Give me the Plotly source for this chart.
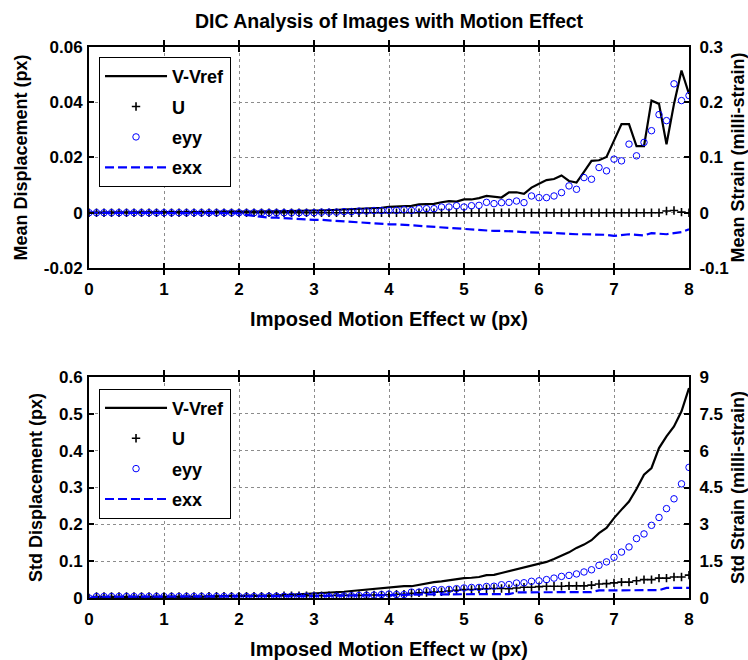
import plotly.graph_objects as go

# Imposed motion effect w (px)
w = [0.0, 0.1, 0.2, 0.3, 0.4, 0.5, 0.6, 0.7, 0.8, 0.9,
     1.0, 1.1, 1.2, 1.3, 1.4, 1.5, 1.6, 1.7, 1.8, 1.9,
     2.0, 2.1, 2.2, 2.3, 2.4, 2.5, 2.6, 2.7, 2.8, 2.9,
     3.0, 3.1, 3.2, 3.3, 3.4, 3.5, 3.6, 3.7, 3.8, 3.9,
     4.0, 4.1, 4.2, 4.3, 4.4, 4.5, 4.6, 4.7, 4.8, 4.9,
     5.0, 5.1, 5.2, 5.3, 5.4, 5.5, 5.6, 5.7, 5.8, 5.9,
     6.0, 6.1, 6.2, 6.3, 6.4, 6.5, 6.6, 6.7, 6.8, 6.9,
     7.0, 7.1, 7.2, 7.3, 7.4, 7.5, 7.6, 7.7, 7.8, 7.9,
     8.0]

# ---- Top panel: mean values ----
mean_v = [0.0000, 0.0001, 0.0001, 0.0001, 0.0001, 0.0001, 0.0002, 0.0001, 0.0002, 0.0002,
          0.0002, 0.0002, 0.0002, 0.0003, 0.0002, 0.0003, 0.0003, 0.0003, 0.0004, 0.0003,
          0.0004, 0.0004, 0.0005, 0.0004, 0.0005, 0.0005, 0.0006, 0.0006, 0.0007, 0.0007,
          0.0008, 0.0008, 0.0009, 0.0010, 0.0011, 0.0012, 0.0014, 0.0015, 0.0017, 0.0018,
          0.0021, 0.0022, 0.0025, 0.0025, 0.0030, 0.0030, 0.0032, 0.0038, 0.0042, 0.0040,
          0.0048, 0.0048, 0.0053, 0.0061, 0.0059, 0.0055, 0.0074, 0.0074, 0.0068, 0.0091,
          0.0105, 0.0118, 0.0122, 0.0135, 0.0115, 0.0109, 0.0148, 0.0188, 0.0190, 0.0202,
          0.0261, 0.0321, 0.0321, 0.0241, 0.0241, 0.0406, 0.0394, 0.0248, 0.0394, 0.0515,
          0.0430]
mean_u = [0.0000, 0.0000, 0.0000, 0.0000, 0.0000, 0.0000, 0.0000, 0.0000, 0.0000, 0.0000,
          0.0000, 0.0000, 0.0000, 0.0000, 0.0000, 0.0000, 0.0000, 0.0000, 0.0000, 0.0000,
          0.0000, 0.0000, 0.0000, 0.0000, 0.0000, 0.0000, 0.0000, 0.0000, 0.0000, 0.0000,
          0.0000, 0.0000, 0.0000, 0.0000, 0.0000, 0.0000, 0.0000, 0.0000, 0.0000, 0.0000,
          0.0000, 0.0000, 0.0000, 0.0000, 0.0000, 0.0000, 0.0000, 0.0000, 0.0000, 0.0000,
          0.0000, 0.0000, 0.0000, 0.0000, 0.0000, 0.0000, 0.0000, 0.0000, 0.0000, 0.0000,
          0.0000, 0.0000, 0.0000, 0.0000, 0.0000, 0.0000, 0.0000, 0.0000, 0.0000, 0.0000,
          0.0000, 0.0000, 0.0000, 0.0000, 0.0000, 0.0000, 0.0000, 0.0006, 0.0008, 0.0002,
          0.0000]
mean_eyy = [0.000, 0.000, 0.000, 0.000, 0.000, 0.000, 0.000, 0.000, 0.000, 0.000,
            0.000, 0.000, 0.000, 0.000, 0.000, 0.000, 0.000, 0.000, 0.000, 0.000,
            0.000, 0.000, 0.000, 0.000, 0.000, 0.000, 0.000, 0.000, 0.000, 0.000,
            0.000, 0.001, 0.001, 0.001, 0.002, 0.002, 0.003, 0.003, 0.004, 0.004,
            0.0042, 0.0042, 0.0055, 0.0042, 0.0073, 0.0073, 0.0073, 0.0103, 0.0103, 0.0127,
            0.0103, 0.0127, 0.0133, 0.0188, 0.0164, 0.0182, 0.0188, 0.0212, 0.0182, 0.0303,
            0.0273, 0.0273, 0.0303, 0.0364, 0.0485, 0.0424, 0.0636, 0.0606, 0.0818, 0.0758,
            0.0970, 0.0939, 0.1242, 0.1030, 0.1273, 0.1485, 0.1776, 0.1667, 0.2333, 0.2030,
            0.2121]
mean_exx = [0.000, 0.000, 0.000, 0.000, 0.000, 0.000, 0.000, 0.000, 0.000, 0.000,
            0.000, 0.000, 0.000, 0.000, 0.000, 0.000, 0.000, 0.000, 0.000, 0.000,
            -0.001, -0.004, -0.006, -0.008, -0.009, -0.009, -0.010, -0.011, -0.012, -0.012,
            -0.013, -0.013, -0.014, -0.015, -0.016, -0.017, -0.018, -0.019, -0.020, -0.020,
            -0.021, -0.021, -0.022, -0.023, -0.024, -0.024, -0.025, -0.026, -0.027, -0.028,
            -0.029, -0.030, -0.031, -0.032, -0.033, -0.033, -0.033, -0.034, -0.035, -0.036,
            -0.036, -0.036, -0.037, -0.038, -0.039, -0.039, -0.039, -0.039, -0.039, -0.040,
            -0.042, -0.040, -0.039, -0.040, -0.041, -0.037, -0.038, -0.039, -0.037, -0.035,
            -0.030]

# ---- Bottom panel: standard deviations ----
std_v = [0.000, 0.002, 0.002, 0.002, 0.002, 0.003, 0.003, 0.003, 0.003, 0.003,
         0.003, 0.003, 0.003, 0.004, 0.004, 0.004, 0.004, 0.004, 0.005, 0.005,
         0.005, 0.005, 0.006, 0.006, 0.007, 0.007, 0.008, 0.009, 0.010, 0.011,
         0.012, 0.013, 0.014, 0.016, 0.017, 0.019, 0.021, 0.023, 0.024, 0.027,
         0.029, 0.032, 0.032, 0.032, 0.036, 0.041, 0.043, 0.045, 0.048, 0.052,
         0.054, 0.055, 0.057, 0.062, 0.063, 0.068, 0.073, 0.077, 0.081, 0.088,
         0.092, 0.098, 0.106, 0.115, 0.124, 0.136, 0.145, 0.157, 0.176, 0.190,
         0.217, 0.240, 0.262, 0.296, 0.335, 0.353, 0.407, 0.439, 0.466, 0.507,
         0.570]
std_u = [0.000, 0.004, 0.004, 0.004, 0.004, 0.004, 0.004, 0.004, 0.004, 0.004,
         0.004, 0.004, 0.004, 0.004, 0.004, 0.004, 0.005, 0.005, 0.005, 0.005,
         0.005, 0.005, 0.005, 0.005, 0.005, 0.005, 0.006, 0.006, 0.006, 0.006,
         0.006, 0.006, 0.006, 0.007, 0.007, 0.007, 0.007, 0.008, 0.008, 0.008,
         0.009, 0.010, 0.010, 0.013, 0.014, 0.015, 0.016, 0.017, 0.019, 0.021,
         0.023, 0.023, 0.024, 0.025, 0.026, 0.026, 0.025, 0.027, 0.029, 0.029,
         0.031, 0.032, 0.032, 0.032, 0.033, 0.033, 0.033, 0.035, 0.038, 0.039,
         0.041, 0.043, 0.043, 0.047, 0.050, 0.050, 0.054, 0.054, 0.057, 0.057,
         0.062]
std_eyy = [0.00, 0.06, 0.06, 0.06, 0.06, 0.06, 0.06, 0.06, 0.06, 0.06,
           0.06, 0.06, 0.06, 0.06, 0.06, 0.06, 0.06, 0.06, 0.06, 0.06,
           0.06, 0.06, 0.06, 0.06, 0.07, 0.07, 0.07, 0.07, 0.07, 0.07,
           0.08, 0.07, 0.06, 0.07, 0.08, 0.09, 0.10, 0.11, 0.12, 0.14,
           0.16, 0.14, 0.14, 0.24, 0.24, 0.30, 0.34, 0.34, 0.35, 0.38,
           0.41, 0.43, 0.43, 0.47, 0.48, 0.54, 0.55, 0.61, 0.62, 0.68,
           0.70, 0.75, 0.81, 0.88, 0.92, 0.98, 1.06, 1.15, 1.33, 1.47,
           1.66, 1.87, 2.08, 2.42, 2.61, 2.96, 3.28, 3.64, 4.04, 4.65,
           5.32]
std_exx = [0.00, 0.05, 0.05, 0.05, 0.05, 0.05, 0.05, 0.05, 0.05, 0.05,
           0.05, 0.05, 0.05, 0.05, 0.05, 0.05, 0.05, 0.05, 0.05, 0.05,
           0.05, 0.05, 0.05, 0.05, 0.05, 0.07, 0.07, 0.07, 0.08, 0.08,
           0.08, 0.09, 0.09, 0.09, 0.10, 0.10, 0.10, 0.10, 0.10, 0.11,
           0.12, 0.12, 0.13, 0.14, 0.14, 0.15, 0.15, 0.15, 0.15, 0.15,
           0.15, 0.15, 0.15, 0.15, 0.15, 0.16, 0.16, 0.23, 0.23, 0.24,
           0.24, 0.24, 0.24, 0.24, 0.24, 0.24, 0.24, 0.24, 0.31, 0.31,
           0.31, 0.32, 0.32, 0.32, 0.32, 0.32, 0.32, 0.41, 0.41, 0.41,
           0.41]

# Tick labels
x_ticks = [0, 1, 2, 3, 4, 5, 6, 7, 8]
x_ticklabels = ["0", "1", "2", "3", "4", "5", "6", "7", "8"]
y1_ticks = [-0.02, 0, 0.02, 0.04, 0.06]
y1_ticklabels = ["-0.02", "0", "0.02", "0.04", "0.06"]
y2_ticks = [-0.1, 0, 0.1, 0.2, 0.3]
y2_ticklabels = ["-0.1", "0", "0.1", "0.2", "0.3"]
y3_ticks = [0, 0.1, 0.2, 0.3, 0.4, 0.5, 0.6]
y3_ticklabels = ["0", "0.1", "0.2", "0.3", "0.4", "0.5", "0.6"]
y4_ticks = [0, 1.5, 3, 4.5, 6, 7.5, 9]
y4_ticklabels = ["0", "1.5", "3", "4.5", "6", "7.5", "9"]

series_names = ["V-Vref", "U", "eyy", "exx"]

FONT = "Liberation Sans, Arial, sans-serif"
BLUE = "#0000ff"

fig = go.Figure()


def add_panel(xa, ya_left, ya_right, v, u, eyy, exx, legend):
    fig.add_trace(go.Scatter(x=w, y=v, mode="lines", name=series_names[0],
                             line=dict(color="black", width=2.2),
                             xaxis=xa, yaxis=ya_left, legend=legend,
                             legendgroup=legend + "a"))
    fig.add_trace(go.Scatter(x=w, y=u, mode="markers", name=series_names[1],
                             marker=dict(symbol="cross-thin", size=6, color="black",
                                         line=dict(color="black", width=1.6)),
                             xaxis=xa, yaxis=ya_left, legend=legend,
                             legendgroup=legend + "b"))
    fig.add_trace(go.Scatter(x=w, y=eyy, mode="markers", name=series_names[2],
                             marker=dict(symbol="circle-open", size=6.5, color=BLUE,
                                         line=dict(color=BLUE, width=1)),
                             xaxis=xa, yaxis=ya_right, legend=legend,
                             legendgroup=legend + "c"))
    fig.add_trace(go.Scatter(x=w, y=exx, mode="lines", name=series_names[3],
                             line=dict(color=BLUE, width=2.2, dash="9px,4px"),
                             xaxis=xa, yaxis=ya_right, legend=legend,
                             legendgroup=legend + "d"))


add_panel("x", "y", "y2", mean_v, mean_u, mean_eyy, mean_exx, "legend")
add_panel("x2", "y3", "y4", std_v, std_u, std_eyy, std_exx, "legend2")

tickfont = dict(family=FONT, size=17, color="black", weight="bold")
xtitlefont = dict(family=FONT, size=20, color="black", weight="bold")
ytitlefont = dict(family=FONT, size=18, color="black", weight="bold")

common_x = dict(range=[0, 8], tickvals=x_ticks, ticktext=x_ticklabels,
                showgrid=True, gridcolor="#8c8c8c", griddash="dot", gridwidth=1,
                showline=True, linecolor="black", linewidth=2, mirror="allticks",
                ticks="inside", ticklen=5, tickcolor="black", tickwidth=1.5,
                zeroline=False, tickfont=tickfont, ticklabelstandoff=5,
                automargin=False,
                title=dict(text="Imposed Motion Effect w (px)", font=xtitlefont, standoff=14))
common_y = dict(showgrid=True, gridcolor="#8c8c8c", griddash="dot", gridwidth=1,
                showline=True, linecolor="black", linewidth=2, mirror=True,
                ticks="inside", ticklen=5, tickcolor="black", tickwidth=1.5,
                zeroline=False, tickfont=tickfont, ticklabelstandoff=1,
                automargin=False)
common_y2 = dict(showgrid=False, showline=True, linecolor="black", linewidth=2,
                 ticks="inside", ticklen=5, tickcolor="black", tickwidth=1.5,
                 zeroline=False, tickfont=tickfont, side="right", ticklabelstandoff=5,
                 automargin=False)

legend_style = dict(bgcolor="white", bordercolor="black", borderwidth=1,
                    font=dict(family=FONT, size=18, color="black", weight="bold"),
                    tracegroupgap=4, itemwidth=62, xanchor="left", yanchor="top")

fig.update_layout(
    width=748, height=660,
    margin=dict(l=89, r=59, t=47, b=62, autoexpand=False),
    paper_bgcolor="white", plot_bgcolor="white",
    title=dict(text="DIC Analysis of Images with Motion Effect",
               font=dict(family=FONT, size=19.5, color="black", weight="bold"),
               x=0.5, xref="paper", xanchor="center",
               y=1 - 21 / 660, yref="container", yanchor="middle"),
    xaxis=dict(domain=[0, 1], anchor="y", **common_x),
    xaxis2=dict(domain=[0, 1], anchor="y3", **common_x),
    yaxis=dict(domain=[0.599, 1], anchor="x", range=[-0.02, 0.06],
               tickvals=y1_ticks, ticktext=y1_ticklabels,
               title=dict(text="Mean Displacement (px)", font=ytitlefont, standoff=12),
               **common_y),
    yaxis2=dict(overlaying="y", anchor="x", range=[-0.1, 0.3],
                tickvals=y2_ticks, ticktext=y2_ticklabels,
                title=dict(text="Mean Strain (milli-strain)", font=ytitlefont, standoff=14),
                **common_y2),
    yaxis3=dict(domain=[0, 0.401], anchor="x2", range=[0, 0.6],
                tickvals=y3_ticks, ticktext=y3_ticklabels,
                title=dict(text="Std Displacement (px)", font=ytitlefont, standoff=12),
                **common_y),
    yaxis4=dict(overlaying="y3", anchor="x2", range=[0, 9],
                tickvals=y4_ticks, ticktext=y4_ticklabels,
                title=dict(text="Std Strain (milli-strain)", font=ytitlefont, standoff=14),
                **common_y2),
    legend=dict(x=0.0167, y=0.982, **legend_style),
    legend2=dict(x=0.0167, y=0.380, **legend_style),
)

fig.write_html("out.html")
